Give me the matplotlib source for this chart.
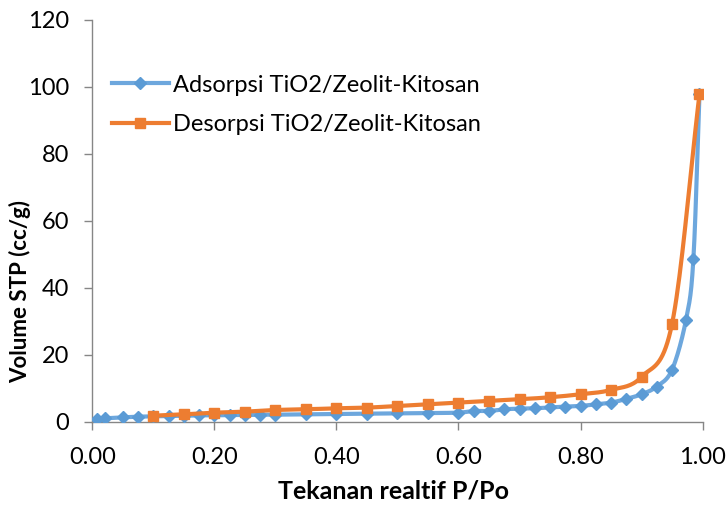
import numpy as np
import matplotlib
matplotlib.use("Agg")
import matplotlib.pyplot as plt

ads_x = [0.007, 0.02, 0.05, 0.075, 0.1, 0.125, 0.15, 0.175, 0.2, 0.225, 0.25, 0.275, 0.3,
         0.35, 0.4, 0.45, 0.5, 0.55, 0.6, 0.625, 0.65, 0.675, 0.7, 0.725, 0.75, 0.775,
         0.8, 0.825, 0.85, 0.875, 0.9, 0.925, 0.95, 0.973, 0.985, 0.995]
ads_y = [0.8, 1.0, 1.3, 1.5, 1.6, 1.7, 1.8, 1.9, 1.9, 2.0, 2.0, 2.1, 2.1,
         2.2, 2.3, 2.4, 2.5, 2.6, 2.7, 3.2, 3.2, 3.7, 3.9, 4.0, 4.3, 4.5,
         4.7, 5.2, 5.7, 6.8, 8.2, 10.5, 15.5, 30.5, 48.5, 97.8]
des_x = [0.1, 0.15, 0.2, 0.25, 0.3, 0.35, 0.4, 0.45, 0.5, 0.55, 0.6, 0.65, 0.7, 0.75,
         0.8, 0.85, 0.9, 0.95, 0.995]
des_y = [1.8, 2.2, 2.7, 3.0, 3.5, 3.7, 4.0, 4.2, 4.7, 5.2, 5.7, 6.2, 6.7, 7.3,
         8.2, 9.5, 13.4, 29.2, 97.8]
x_ticks = [0.0, 0.2, 0.4, 0.6, 0.8, 1.0]
x_tick_labels = ["0.00", "0.20", "0.40", "0.60", "0.80", "1.00"]
y_ticks = [0, 20, 40, 60, 80, 100, 120]
labels = ["Adsorpsi TiO2/Zeolit-Kitosan", "Desorpsi TiO2/Zeolit-Kitosan"]

BLUE = "#5B9BD5"
BLUE_LINE = "#6DA7DD"
ORANGE = "#ED7D31"
GRAY = "#868686"

plt.rcParams['font.family'] = ['Lato', 'DejaVu Sans']


def smooth(x, y, n=20):
    # Catmull-Rom style smoothing (like Excel smoothed lines)
    x = np.asarray(x, float)
    y = np.asarray(y, float)
    px = np.concatenate([[2 * x[0] - x[1]], x, [2 * x[-1] - x[-2]]])
    py = np.concatenate([[2 * y[0] - y[1]], y, [2 * y[-1] - y[-2]]])
    t = np.linspace(0, 1, n)
    ox, oy = [], []
    for i in range(1, len(px) - 2):
        p0, p1, p2, p3 = (px[i - 1], py[i - 1]), (px[i], py[i]), (px[i + 1], py[i + 1]), (px[i + 2], py[i + 2])
        for P, out in ((0, ox), (1, oy)):
            a0, a1, a2, a3 = p0[P], p1[P], p2[P], p3[P]
            c1 = a1 + (a2 - a0) / 6.0
            c2 = a2 - (a3 - a1) / 6.0
            seg = ((1 - t) ** 3) * a1 + 3 * ((1 - t) ** 2) * t * c1 + 3 * (1 - t) * t ** 2 * c2 + t ** 3 * a2
            out.extend(seg)
    return np.array(ox), np.array(oy)


fig = plt.figure(figsize=(7.28, 5.09), dpi=100)
ax = fig.add_axes([0.127, 0.1715, 0.838, 0.7895])

LW = 3.0
sx, sy = smooth(ads_x, ads_y)
ax.plot(sx, sy, color=BLUE_LINE, lw=LW, solid_capstyle='round', zorder=2)
ax.plot(ads_x, ads_y, ls='none', marker='D', ms=6.5, color=BLUE, zorder=3)
sx, sy = smooth(des_x, des_y)
ax.plot(sx, sy, color=ORANGE, lw=LW, solid_capstyle='round', zorder=4)
ax.plot(des_x, des_y, ls='none', marker='s', ms=7, color=ORANGE, zorder=5)

# legend proxies
h1, = ax.plot([], [], color=BLUE_LINE, lw=LW, marker='D', ms=6.5, mfc=BLUE, mec=BLUE)
h2, = ax.plot([], [], color=ORANGE, lw=LW, marker='s', ms=7)
leg = ax.legend([h1, h2], labels, loc='upper left', bbox_to_anchor=(0.005, 0.905),
                frameon=False, fontsize=17, handlelength=2.4, handletextpad=0.2,
                labelspacing=0.78, borderaxespad=0.3)

ax.set_xlim(0, 1.0)
ax.set_ylim(0, 120)
ax.set_xticks(x_ticks)
ax.set_xticklabels(x_tick_labels)
ax.set_yticks(y_ticks)

for s in ['top', 'right']:
    ax.spines[s].set_visible(False)
for s in ['left', 'bottom']:
    ax.spines[s].set_color(GRAY)
    ax.spines[s].set_linewidth(1.0)
ax.tick_params(axis='both', direction='out', length=6, color=GRAY, width=1.0,
               labelsize=17, labelcolor='black')
ax.tick_params(axis='x', pad=12)
ax.tick_params(axis='y', pad=11)

ax.set_xlabel("Tekanan realtif P/Po", fontsize=18, fontweight='bold')
ax.set_ylabel("Volume STP (cc/g)", fontsize=16, fontweight='bold')
ax.xaxis.set_label_coords(0.493, -0.143)
ax.yaxis.set_label_coords(-0.1, 0.325)

fig.savefig("out.png", dpi=100)
